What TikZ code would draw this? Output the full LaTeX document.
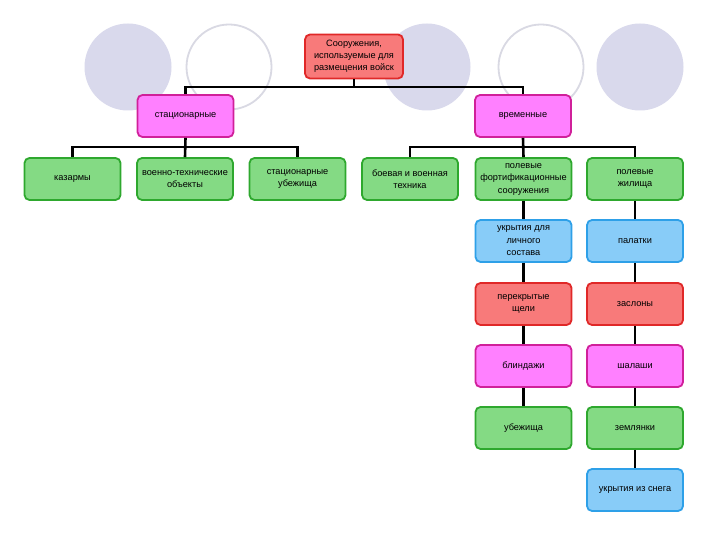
\documentclass[tikz,border=0pt]{standalone}
\usepackage{fontspec}
\setmainfont{Liberation Sans}
\definecolor{redfill}{HTML}{F87A7A}
\definecolor{redline}{HTML}{E02828}
\definecolor{pinkfill}{HTML}{FF80FF}
\definecolor{pinkline}{HTML}{D0209A}
\definecolor{greenfill}{HTML}{84DA84}
\definecolor{greenline}{HTML}{2EA82E}
\definecolor{bluefill}{HTML}{88CCF8}
\definecolor{blueline}{HTML}{2EA0E8}
\definecolor{circfill}{HTML}{D9D9EC}
\definecolor{circline}{HTML}{D9D9E3}
\begin{document}
\begin{tikzpicture}[x=1pt,y=-1pt,
  box/.style={rounded corners=5pt, line width=1.8pt, minimum width=96pt, minimum height=42pt,
    align=center, inner sep=1pt, font=\fontsize{9.2}{12.5}\selectfont},
  redbox/.style={box, fill=redfill, draw=redline},
  pinkbox/.style={box, fill=pinkfill, draw=pinkline},
  greenbox/.style={box, fill=greenfill, draw=greenline},
  bluebox/.style={box, fill=bluefill, draw=blueline},
  conn/.style={line width=2.6pt, black},
  fcirc/.style={fill=circfill, draw=none},
  ocirc/.style={draw=circline, line width=1.8pt, fill=white}]
\useasboundingbox (0,0) rectangle (720,540);
% background circles
\fill[white] (0,0) rectangle (720,540);
\path[fcirc] (128,67) circle (43.5);
\path[ocirc] (229,67) circle (42.5);
\path[fcirc] (427,67) circle (43.5);
\path[ocirc] (541,67) circle (42.5);
\path[fcirc] (640,67) circle (43.5);
% nodes
\node[redbox, minimum width=98pt, minimum height=44pt, font=\fontsize{9.2}{12}\selectfont] (root) at (354,56.5) {Сооружения,\\используемые для\\размещения войск};
\node[pinkbox] (stat) at (185.5,116) {стационарные};
\node[pinkbox] (vrem) at (523,116) {временные};
\node[greenbox] (kaz) at (72.5,179) {казармы};
\node[greenbox] (voen) at (185,179) {военно-технические\\объекты};
\node[greenbox] (ubst) at (297.5,179) {стационарные\\убежища};
\node[greenbox] (boev) at (410,179) {боевая и военная\\техника};
\node[greenbox] (fort) at (523.5,179) {полевые\\фортификационные\\сооружения};
\node[greenbox] (zhil) at (635,179) {полевые\\жилища};
\node[bluebox] (ukr) at (523.5,241) {укрытия для\\личного\\состава};
\node[bluebox] (pal) at (635,241) {палатки};
\node[redbox] (perek) at (523.5,304) {перекрытые\\щели};
\node[redbox] (zasl) at (635,304) {заслоны};
\node[pinkbox] (blin) at (523.5,366) {блиндажи};
\node[pinkbox] (shal) at (635,366) {шалаши};
\node[greenbox] (ubez) at (523.5,428) {убежища};
\node[greenbox] (zeml) at (635,428) {землянки};
\node[bluebox] (sneg) at (635,490) {укрытия из снега};
% buses
\coordinate (bus1) at (354,87);
\coordinate (bus2) at (354,147);
% connectors
\draw[conn] (root.south) -- (root.south |- bus1);
\draw[conn] (stat.north) -- (stat.north |- bus1) -- (vrem.north |- bus1) -- (vrem.north);
\draw[conn] (stat.south) -- (voen.north);
\draw[conn] (kaz.north) -- (kaz.north |- bus2) -- (ubst.north |- bus2) -- (ubst.north);
\draw[conn] (vrem.south) -- (fort.north);
\draw[conn] (boev.north) -- (boev.north |- bus2) -- (zhil.north |- bus2) -- (zhil.north);
\draw[conn] (fort.south) -- (ukr.north);
\draw[conn] (ukr.south) -- (perek.north);
\draw[conn] (perek.south) -- (blin.north);
\draw[conn] (blin.south) -- (ubez.north);
\draw[conn] (zhil.south) -- (pal.north);
\draw[conn] (pal.south) -- (zasl.north);
\draw[conn] (zasl.south) -- (shal.north);
\draw[conn] (shal.south) -- (zeml.north);
\draw[conn] (zeml.south) -- (sneg.north);
\end{tikzpicture}
\end{document}
